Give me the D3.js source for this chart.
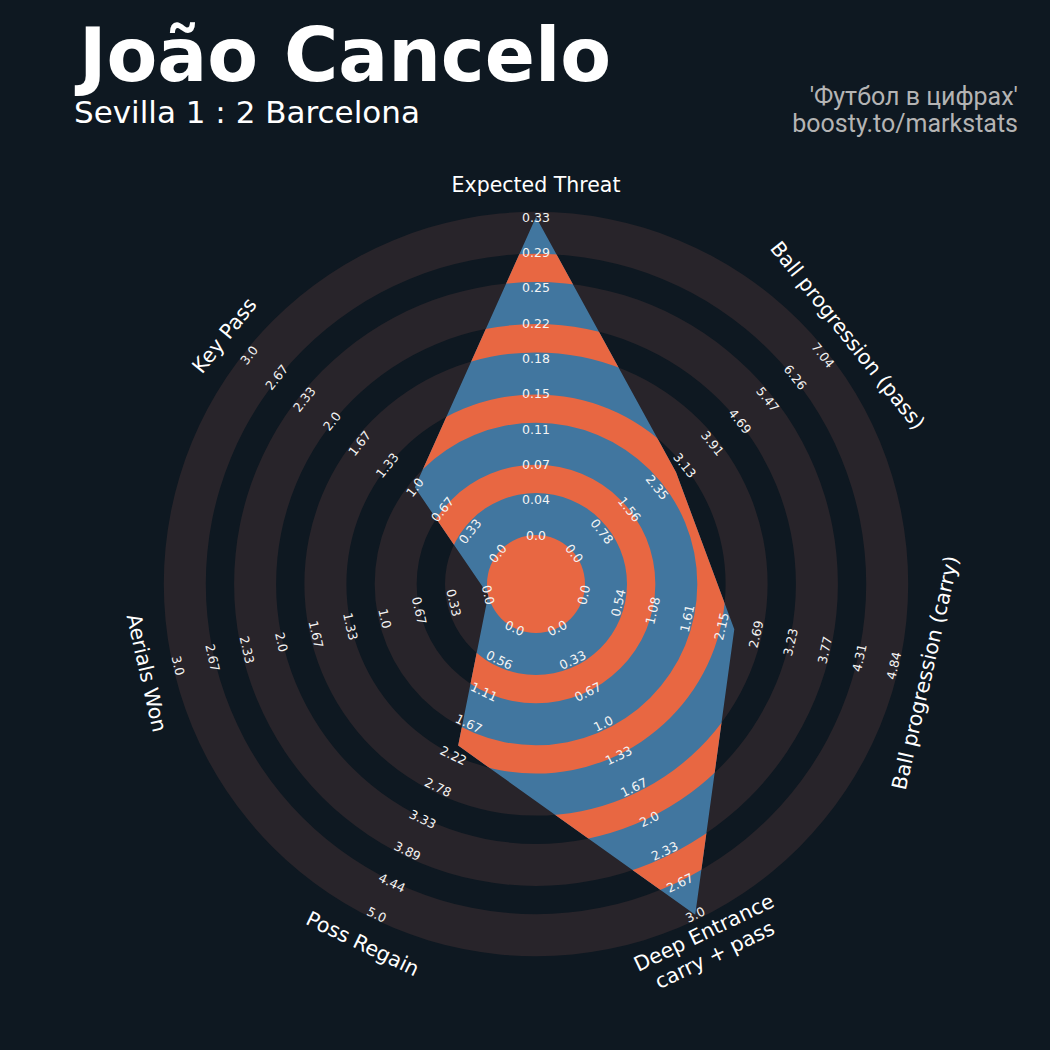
<!DOCTYPE html>
<html>
<head>
<meta charset="utf-8">
<script src="https://cdn.jsdelivr.net/npm/d3@7"></script>
<style>
body { margin: 0; background: #0e1821; }
</style>
</head>
<body>
<div id="chart"></div>
<script>
var params = ["Expected Threat", "Ball progression (pass)", "Ball progression (carry)", "Deep Entrance\ncarry + pass", "Poss Regain", "Aerials Won", "Key Pass"]
var lows = [0, 0, 0, 0, 0, 0, 0]
var highs = [0.33, 7.04, 4.84, 3.0, 5.0, 3.0, 3.0]
var values = [0.33, 2.88, 2.35, 3.0, 2.05, 0, 1.0]
var tickLabels = [
	["0.0", "0.04", "0.07", "0.11", "0.15", "0.18", "0.22", "0.25", "0.29", "0.33"],
	["0.0", "0.78", "1.56", "2.35", "3.13", "3.91", "4.69", "5.47", "6.26", "7.04"],
	["0.0", "0.54", "1.08", "1.61", "2.15", "2.69", "3.23", "3.77", "4.31", "4.84"],
	["0.0", "0.33", "0.67", "1.0", "1.33", "1.67", "2.0", "2.33", "2.67", "3.0"],
	["0.0", "0.56", "1.11", "1.67", "2.22", "2.78", "3.33", "3.89", "4.44", "5.0"],
	["0.0", "0.33", "0.67", "1.0", "1.33", "1.67", "2.0", "2.33", "2.67", "3.0"],
	["0.0", "0.33", "0.67", "1.0", "1.33", "1.67", "2.0", "2.33", "2.67", "3.0"]
]
var title = "João Cancelo"
var subtitle = "Sevilla 1 : 2 Barcelona"
var credits = ["'Футбол в цифрах'", "boosty.to/markstats"]

var W = 1050, H = 1050
var cx = 536, cy = 584
var innerR = 49, dataR = 367
var ringW = 42, gapW = 28.3, numRings = 5
var bg = "#0e1821", ringColor = "#28242a", blue = "#41769f", orange = "#e86742"

var svg = d3.select("#chart").append("svg").attr("width", W).attr("height", H)
svg.append("rect").attr("width", W).attr("height", H).attr("fill", bg)

var angle = d3.scaleLinear().domain([0, params.length]).range([0, 2 * Math.PI])
var radius = params.map(function(p, i) {
	return d3.scaleLinear().domain([lows[i], highs[i]]).range([innerR, dataR])
})

var bands = d3.range(numRings).map(function(i) {
	var r0 = innerR + i * (ringW + gapW)
	return { ring: [r0, r0 + ringW], gap: [r0 + ringW, r0 + ringW + gapW] }
})
var outerR = bands[numRings - 1].ring[1]
var arc = d3.arc().startAngle(0).endAngle(2 * Math.PI)

var g = svg.append("g").attr("transform", "translate(" + cx + "," + cy + ")")

// background rings
g.append("circle").attr("r", innerR).attr("fill", ringColor)
g.selectAll("path.ring").data(bands).enter().append("path")
	.attr("class", "ring")
	.attr("d", function(b) { return arc({ innerRadius: b.ring[0], outerRadius: b.ring[1] }) })
	.attr("fill", ringColor)

// radar shape, ring colours clipped to it
var radar = d3.lineRadial()
	.angle(function(d, i) { return angle(i) })
	.radius(function(d, i) { return radius[i](d) })
	.curve(d3.curveLinearClosed)

svg.append("defs").append("clipPath").attr("id", "radarClip")
	.append("path").attr("d", radar(values))

var inside = g.append("g").attr("clip-path", "url(#radarClip)")
inside.append("circle").attr("r", outerR).attr("fill", blue)
inside.selectAll("path.gap").data(bands.slice(0, numRings - 1)).enter().append("path")
	.attr("class", "gap")
	.attr("d", function(b) { return arc({ innerRadius: b.gap[0], outerRadius: b.gap[1] }) })
	.attr("fill", orange)
g.append("circle").attr("r", innerR).attr("fill", orange)

function rot(i) {
	var deg = angle(i) * 180 / Math.PI
	return (deg > 90 && deg < 270) ? deg - 180 : deg
}
function pos(i, r) {
	var a = angle(i)
	return [r * Math.sin(a), -r * Math.cos(a)]
}

// ring labels
params.forEach(function(p, i) {
	var step = (highs[i] - lows[i]) / (tickLabels[i].length - 1)
	g.selectAll(null).data(tickLabels[i]).enter().append("text")
		.attr("transform", function(t, k) {
			var xy = pos(i, radius[i](lows[i] + k * step))
			return "translate(" + xy[0] + "," + xy[1] + ") rotate(" + rot(i) + ")"
		})
		.attr("text-anchor", "middle")
		.attr("dominant-baseline", "central")
		.attr("font-family", "DejaVu Sans")
		.attr("font-size", 12.5)
		.attr("fill", "#f4f4f4")
		.text(function(t) { return t })
})

// param labels
params.forEach(function(p, i) {
	var xy = pos(i, 399)
	var lines = p.split("\n")
	var t = g.append("text")
		.attr("transform", "translate(" + xy[0] + "," + xy[1] + ") rotate(" + rot(i) + ")")
		.attr("text-anchor", "middle")
		.attr("font-family", "DejaVu Sans")
		.attr("font-size", 20.5)
		.attr("fill", "#ffffff")
	lines.forEach(function(l, j) {
		t.append("tspan").attr("x", 0)
			.attr("y", (j - (lines.length - 1) / 2) * 24.6)
			.attr("dy", "0.36em")
			.text(l)
	})
})

// titles
svg.append("text").attr("x", 79).attr("y", 81)
	.attr("font-family", "DejaVu Sans").attr("font-weight", "bold").attr("font-size", 74)
	.attr("fill", "#ffffff").text(title)
svg.append("text").attr("x", 74).attr("y", 123)
	.attr("font-family", "DejaVu Sans").attr("font-size", 31)
	.attr("fill", "#ffffff").text(subtitle)
svg.selectAll("text.credit").data(credits).enter().append("text")
	.attr("class", "credit")
	.attr("x", 1018).attr("y", function(d, i) { return 105 + i * 27 })
	.attr("text-anchor", "end")
	.attr("font-family", "Roboto").attr("font-size", 25)
	.attr("fill", "#b4b4b4").text(function(d) { return d })
</script>
</body>
</html>
